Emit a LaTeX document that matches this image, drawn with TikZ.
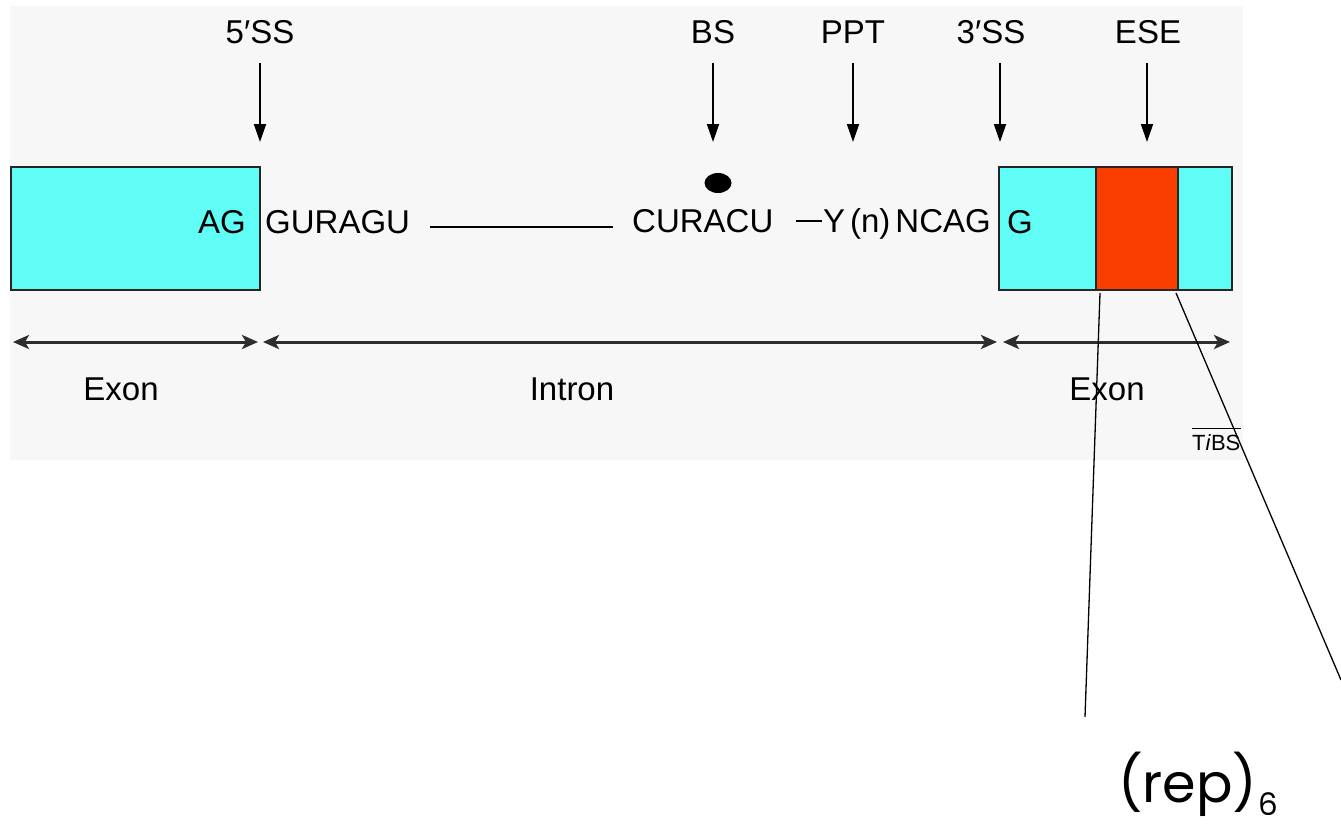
\documentclass[tikz,border=0pt]{standalone}
\usepackage{fontspec}
\setmainfont{Liberation Sans}
\newfontfamily\repfont{Poppins}
\usetikzlibrary{arrows.meta,calc,shapes.geometric}

\definecolor{panel}{RGB}{247,247,247}
\definecolor{exoncyan}{RGB}{96,252,246}
\definecolor{esered}{RGB}{250,62,0}
\definecolor{spanline}{RGB}{45,45,45}

\begin{document}
\begin{tikzpicture}[x=1pt,y=-1pt,
  lbl/.style={inner sep=0pt, font=\fontsize{33}{36}\selectfont},
  small/.style={inner sep=0pt, font=\fontsize{22}{24}\selectfont},
  pointer/.style={-{Triangle[length=18pt,width=12pt]}, line width=1.8pt},
  spanarrow/.style={{Stealth[length=16pt,width=14pt,inset=4pt]}-{Stealth[length=16pt,width=14pt,inset=4pt]},
    line width=3pt, draw=spanline},
  block/.style={draw=black!85, line width=2pt, inner sep=0pt, outer sep=0pt,
    minimum height=123pt, anchor=north west},
  zoomline/.style={line width=1.3pt, draw=black},
]
\useasboundingbox (0,0) rectangle (1341,827);
\fill[white] (0,0) rectangle (1341,827);
\fill[panel] (10,6) rectangle (1243,460);

% exon / intron blocks
\node[block, fill=exoncyan, minimum width=249pt] (exonL) at (11,167) {};
\node[block, fill=exoncyan, minimum width=233pt] (exonR) at (999,167) {};
\node[block, fill=esered, minimum width=82pt] (ese) at (1096,167) {};

% sequence
\node[lbl, anchor=base east] (ag) at (246,233) {AG};
\node[lbl, anchor=base west] (guragu) at (265,233) {GURAGU};
\node[lbl, anchor=base west] (curacu) at (632,232) {CURACU};
\node[lbl, anchor=base east] (ppt) at (991,232) {\rule[10pt]{26pt}{2pt}\kern1pt Y\kern5pt(n)\kern5pt NCAG};
\node[lbl, anchor=base west] (g) at (1007,233) {G};
\coordinate (linkA) at (430,227);
\coordinate (linkB) at (613,227);
\draw[line width=2pt] (linkA) -- (linkB);
\node[fill=black, ellipse, minimum width=27pt, minimum height=20pt, inner sep=0pt] (dot) at (718,183) {};

% site labels and pointers
\node[lbl, anchor=base] (ss5) at (260,43) {5′SS};
\node[lbl, anchor=base] (bs) at (713,43) {BS};
\node[lbl, anchor=base] (pptlbl) at (853,43) {PPT};
\node[lbl, anchor=base] (ss3) at (991,43) {3′SS};
\node[lbl, anchor=base] (eselbl) at (1148,43) {ESE};
\coordinate (p5a) at (260,63);  \coordinate (p5b) at (260,142);
\coordinate (pba) at (713,63);  \coordinate (pbb) at (713,142);
\coordinate (ppa) at (853,63);  \coordinate (ppb) at (853,142);
\coordinate (p3a) at (1000,63); \coordinate (p3b) at (1000,142);
\coordinate (pea) at (1147,63); \coordinate (peb) at (1147,142);
\draw[pointer] (p5a) -- (p5b);
\draw[pointer] (pba) -- (pbb);
\draw[pointer] (ppa) -- (ppb);
\draw[pointer] (p3a) -- (p3b);
\draw[pointer] (pea) -- (peb);

% spans
\coordinate (s1) at (13,342);   \coordinate (s2) at (258,342);
\coordinate (s3) at (263,342);  \coordinate (s4) at (997,342);
\coordinate (s5) at (1003,342); \coordinate (s6) at (1230,342);
\draw[spanarrow] (s1) -- (s2);
\draw[spanarrow] (s3) -- (s4);
\draw[spanarrow] (s5) -- (s6);
\node[lbl, anchor=base] (exon1) at (121,400) {Exon};
\node[lbl, anchor=base] (intron) at (572,400) {Intron};
\node[lbl, anchor=base] (exon2) at (1107,400) {Exon};

% journal mark
\node[small, anchor=base west] (tibs) at (1192,450) {T\textit{i}BS};
\draw[line width=1pt] (tibs.west |- 0,428) -- (tibs.east |- 0,428);

% zoom-out of the enhancer
\coordinate (zl) at (1085,717);
\coordinate (zr) at (1341,680);
\draw[zoomline] ($(ese.south west)+(4,3)$) -- (zl);
\draw[zoomline] ($(ese.south east)+(-2,3)$) -- (zr);
\node[inner sep=0pt, anchor=base west, font=\repfont\fontsize{54}{54}\selectfont] (rep)
  at (1118,802) {(rep)\kern1pt\raisebox{-13pt}{\fontsize{31}{31}\selectfont 6}};
\end{tikzpicture}
\end{document}
